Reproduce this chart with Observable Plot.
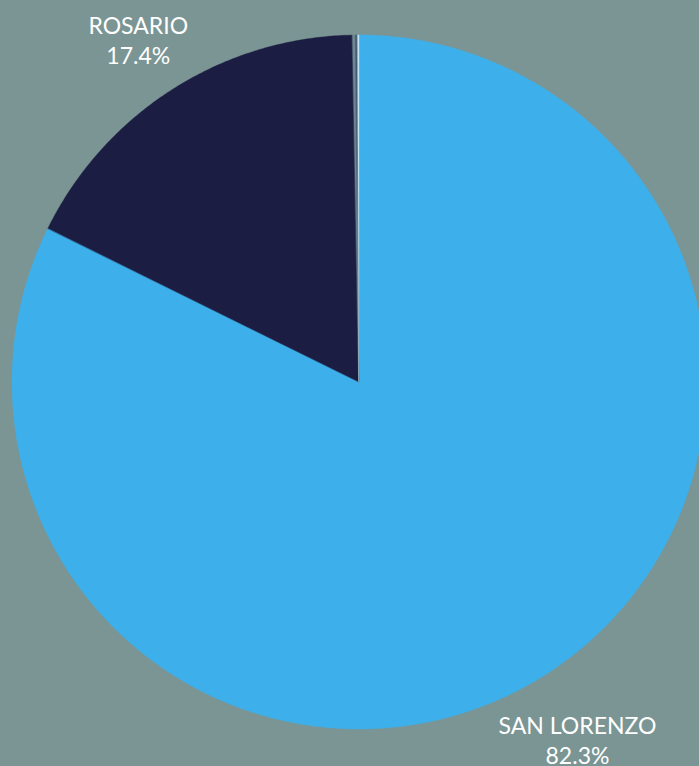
<!DOCTYPE html>
<html><head><meta charset="utf-8">
<script src="https://cdn.jsdelivr.net/npm/d3@7"></script>
<script src="https://cdn.jsdelivr.net/npm/@observablehq/plot@0.6"></script>
<style>html,body{margin:0;padding:0;background:#7a9594;overflow:hidden}#chart svg{display:block}</style>
</head><body><div id="chart"></div>
<script>
const categories = ["SAN LORENZO", "ROSARIO", "OTRO A", "OTRO B", "OTRO C"];
const shares = [82.3, 17.4, 0.15, 0.08, 0.07];
const colors = ["#3db0ec", "#1b1d42", "#6d8892", "#34465e", "#c4e4f6"];
const showLabel = [true, true, false, false, false];

const total = d3.sum(shares);
let acc = 0;
const slices = categories.map((c, i) => {
  const a0 = acc / total * 2 * Math.PI;
  acc += shares[i];
  const a1 = acc / total * 2 * Math.PI;
  return {c, share: shares[i], a0, a1, mid: (a0 + a1) / 2, label: showLabel[i]};
});

// wedge outlines: arc points (top line) and centre (base line)
const pts = [];
slices.forEach(s => {
  const n = Math.max(2, Math.ceil((s.a1 - s.a0) / (Math.PI / 360)));
  for (let k = 0; k <= n; k++) {
    const a = s.a0 + (s.a1 - s.a0) * k / n;
    pts.push({c: s.c, x: Math.sin(a), y: Math.cos(a), x0: 0, y0: 0});
  }
});

const labelR = 1.19;
const labels = slices.filter(s => s.label).map(s => ({
  x: labelR * Math.sin(s.mid),
  y: labelR * Math.cos(s.mid),
  text: `${s.c}\n${s.share.toFixed(1)}%`
}));

const chart = Plot.plot({
  width: 699,
  height: 766,
  margin: 0,
  style: {background: "#7a9594", fontFamily: "Lato, sans-serif", overflow: "hidden"},
  x: {domain: [-1, 1], range: [12, 706], axis: null},
  y: {domain: [-1, 1], range: [729, 35], axis: null},
  color: {domain: categories, range: colors},
  marks: [
    Plot.area(pts, {x1: "x0", y1: "y0", x2: "x", y2: "y", z: "c", fill: "c", stroke: "c", strokeWidth: 0.4}),
    Plot.text(labels, {x: "x", y: "y", text: "text", fill: "white", fontSize: 23, lineHeight: 1.3, dy: 6, lineAnchor: "middle"})
  ]
});
document.getElementById("chart").append(chart);
</script>
</body></html>
